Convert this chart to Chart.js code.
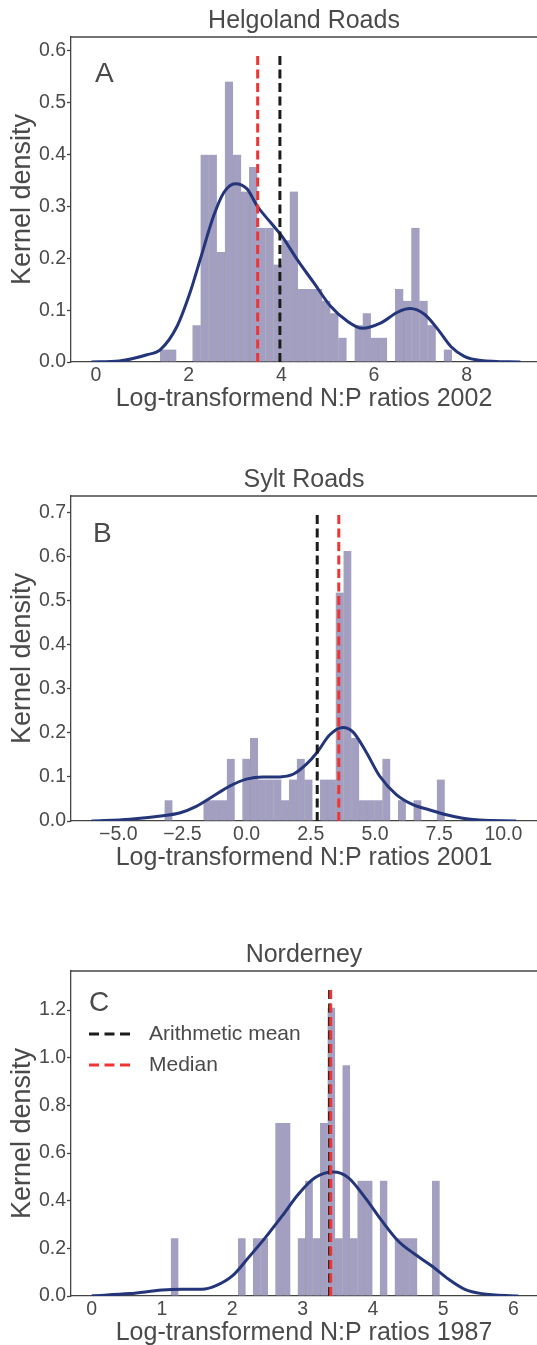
<!DOCTYPE html>
<html>
<head>
<meta charset="utf-8">
<script src="https://cdn.jsdelivr.net/npm/chart.js@4.4.1/dist/chart.umd.min.js"></script>
<style>
  html, body { margin: 0; padding: 0; background: #fff; overflow: hidden; }
  .panel { position: absolute; left: 0; width: 537px; height: 420px; }
</style>
</head>
<body>
<div class="panel" style="top:0px"><canvas id="chartA" width="537" height="420"></canvas></div>
<div class="panel" style="top:459px"><canvas id="chartB" width="537" height="420"></canvas></div>
<div class="panel" style="top:934px"><canvas id="chartC" width="537" height="420"></canvas></div>
<script>
// ---- Helgoland Roads (A) ----
const histA = [0.024, 0.024, 0, 0, 0.071, 0.400, 0.400, 0.212, 0.541, 0.400, 0.329, 0.376,
    0.259, 0.259, 0.188, 0.235, 0.329, 0.141, 0.141, 0.141, 0.118, 0.094, 0.047, 0,
    0.071, 0.094, 0.047, 0.047, 0, 0.141, 0.118, 0.259, 0.118, 0.071, 0, 0.024];
const binStartA = 1.385;
const binWidthA = 0.175;
const kdeXA = [-0.1, 0.5, 1.1, 1.39, 1.75, 2.03, 2.25, 2.54, 2.76, 3.01, 3.26, 3.48, 3.77, 4.02,
    4.34, 4.70, 5.06, 5.42, 5.75, 6.14, 6.51, 6.78, 7.09, 7.38, 7.66, 7.95, 8.31, 9.16];
const kdeYA = [0, 0.002, 0.014, 0.024, 0.069, 0.134, 0.198, 0.282, 0.327, 0.344, 0.334, 0.301, 0.269, 0.242,
    0.198, 0.153, 0.108, 0.079, 0.065, 0.075, 0.096, 0.103, 0.092, 0.063, 0.030, 0.011, 0.003, 0];
const meanA = 3.97;
const medianA = 3.49;

// ---- Sylt Roads (B) ----
const histB = [0.047, 0, 0, 0, 0, 0.047, 0.047, 0.047, 0.141, 0, 0.141, 0.188,
    0.094, 0.094, 0.094, 0.047, 0.094, 0.141, 0.094, 0, 0.094, 0.094, 0.518, 0.612,
    0.188, 0.047, 0.047, 0.047, 0.141, 0, 0.047, 0, 0.047, 0, 0, 0.094];
const binStartB = -3.19;
const binWidthB = 0.303;
const kdeXB = [-6.04, -4.55, -3.26, -2.61, -1.96, -1.31, -0.66, -0.01, 0.64, 1.29, 1.81, 2.33, 2.75,
    3.23, 3.75, 4.14, 4.66, 5.18, 5.83, 6.48, 7.13, 7.78, 8.42, 9.07, 10.5];
const kdeYB = [0, 0.004, 0.012, 0.018, 0.033, 0.056, 0.079, 0.095, 0.100, 0.100, 0.106, 0.129, 0.156,
    0.195, 0.212, 0.202, 0.156, 0.102, 0.060, 0.037, 0.025, 0.014, 0.006, 0.002, 0];
const meanB = 2.75;
const medianB = 3.59;

// ---- Norderney (C) ----
const histC = [0.242, 0, 0, 0, 0, 0, 0, 0, 0, 0.242, 0, 0.242,
    0.242, 0, 0.726, 0.726, 0, 0.242, 0.484, 0.242, 0.726, 1.21, 0.242, 0.968,
    0.242, 0.484, 0.484, 0, 0.484, 0, 0.242, 0.242, 0.242, 0, 0, 0.484];
const binStartC = 1.128;
const binWidthC = 0.1062;
const kdeXC = [0, 0.545, 1.0, 1.29, 1.57, 1.76, 2.0, 2.23, 2.47, 2.71, 2.94, 3.18, 3.44,
    3.65, 3.89, 4.13, 4.36, 4.60, 4.84, 5.08, 5.31, 5.55, 6.07];
const kdeYC = [0.001, 0.010, 0.025, 0.028, 0.028, 0.042, 0.084, 0.161, 0.245, 0.336, 0.427, 0.497, 0.520,
    0.497, 0.413, 0.315, 0.231, 0.175, 0.126, 0.070, 0.028, 0.010, 0];
const meanC = 3.385;
const medianC = 3.40;

const FONT = '"Liberation Sans", Arial, Helvetica, sans-serif';
const textColor = '#4a4a4a';
const axisColor = '#444444';

// top spine of each axes box
const frameTop = {
    id: 'frameTop',
    afterDraw(chart) {
        const { ctx, chartArea } = chart;
        ctx.save();
        ctx.strokeStyle = axisColor;
        ctx.lineWidth = 1.3;
        ctx.beginPath();
        ctx.moveTo(chartArea.left, chartArea.top);
        ctx.lineTo(chartArea.right, chartArea.top);
        ctx.stroke();
        ctx.restore();
    }
};

// "A", "B", "C" panel labels
const panelLetter = {
    id: 'panelLetter',
    afterDraw(chart, args, opts) {
        const { ctx, chartArea } = chart;
        ctx.save();
        ctx.fillStyle = textColor;
        ctx.font = '28px ' + FONT;
        ctx.textBaseline = 'alphabetic';
        ctx.fillText(opts.text, chartArea.left + opts.dx, chartArea.top + opts.dy);
        ctx.restore();
    }
};

// legend with dashed samples, built from the mean/median datasets
const lineLegend = {
    id: 'lineLegend',
    afterDraw(chart, args, opts) {
        if (!opts.show) return;
        const { ctx, chartArea } = chart;
        const items = chart.data.datasets.filter(d => d.inLegend);
        ctx.save();
        items.forEach((d, i) => {
            const y = chartArea.top + 63 + i * 31;
            ctx.strokeStyle = d.borderColor;
            ctx.lineWidth = 3;
            ctx.setLineDash([10, 5.5]);
            ctx.beginPath();
            ctx.moveTo(chartArea.left + 18, y);
            ctx.lineTo(chartArea.left + 59, y);
            ctx.stroke();
            ctx.setLineDash([]);
            ctx.fillStyle = textColor;
            ctx.font = '21px ' + FONT;
            ctx.textBaseline = 'middle';
            ctx.fillText(d.label, chartArea.left + 78, y);
        });
        ctx.restore();
    }
};

function numFmt(v) {
    return (v < 0 ? '\u2212' : '') + Math.abs(v).toFixed(1);
}

function buildChart(id, p) {
    const bars = p.hist.map((h, i) => ({ x: p.binStart + (i + 0.5) * p.binWidth, y: h }));
    const kde = p.kdeX.map((x, i) => ({ x: x, y: p.kdeY[i] }));
    return new Chart(document.getElementById(id), {
        type: 'bar',
        data: {
            datasets: [{
                type: 'bar',
                label: 'hist',
                data: bars,
                backgroundColor: '#a29fc2',
                borderColor: 'rgba(105,105,120,0.6)',
                borderWidth: { left: 1, right: 0, top: 0, bottom: 0 },
                barPercentage: 1,
                categoryPercentage: 1,
                order: 4
            }, {
                type: 'line',
                label: 'KDE',
                data: kde,
                borderColor: '#24357a',
                borderWidth: 3,
                pointRadius: 0,
                cubicInterpolationMode: 'monotone',
                fill: false,
                order: 3
            }, {
                type: 'line',
                label: 'Arithmetic mean',
                inLegend: true,
                data: [{ x: p.mean, y: 0 }, { x: p.mean, y: p.vTop }],
                borderColor: '#1b1b1b',
                borderWidth: 3,
                borderDash: [9, 4.5],
                pointRadius: 0,
                order: 2
            }, {
                type: 'line',
                label: 'Median',
                inLegend: true,
                data: [{ x: p.median, y: 0 }, { x: p.median, y: p.vTop }],
                borderColor: '#f03434',
                borderWidth: 3,
                borderDash: [9, 4.5],
                pointRadius: 0,
                order: 1
            }]
        },
        options: {
            responsive: false,
            animation: false,
            layout: { padding: 0 },
            plugins: {
                legend: { display: false },
                tooltip: { enabled: false },
                title: {
                    display: true,
                    text: p.title,
                    fullSize: false,
                    color: textColor,
                    font: { family: FONT, size: 25, weight: 'normal' },
                    padding: { top: 6, bottom: 1 }
                },
                panelLetter: { text: p.letter, dx: p.letterDx, dy: p.letterDy },
                lineLegend: { show: p.legend }
            },
            scales: {
                x: {
                    type: 'linear',
                    min: p.xMin,
                    max: p.xMax,
                    offset: false,
                    grid: { display: false, drawTicks: false },
                    border: { display: true, color: axisColor, width: 1.3 },
                    ticks: {
                        stepSize: p.xStep,
                        includeBounds: false,
                        maxRotation: 0,
                        color: textColor,
                        font: { family: FONT, size: 19.5 },
                        padding: 1.5,
                        callback: p.xFmt
                    },
                    title: {
                        display: true,
                        text: p.xTitle,
                        color: textColor,
                        font: { family: FONT, size: 25 },
                        padding: { top: 0, bottom: 6 }
                    },
                    afterFit: s => { s.height = 58; }
                },
                y: {
                    min: 0,
                    max: p.yMax,
                    grid: {
                        display: true,
                        drawOnChartArea: false,
                        drawTicks: true,
                        tickLength: 4,
                        color: axisColor,
                        tickColor: axisColor,
                        tickWidth: 1.3
                    },
                    border: { display: true, color: axisColor, width: 1.3 },
                    ticks: {
                        stepSize: p.yStep,
                        includeBounds: false,
                        color: textColor,
                        font: { family: FONT, size: 19.5 },
                        padding: 1,
                        callback: v => v.toFixed(1)
                    },
                    title: {
                        display: true,
                        text: 'Kernel density',
                        color: textColor,
                        font: { family: FONT, size: 27 },
                        padding: { top: 6.8, bottom: 0 }
                    },
                    afterFit: s => { s.width = 71; }
                }
            }
        },
        plugins: [frameTop, panelLetter, lineLegend]
    });
}

buildChart('chartA', {
    title: 'Helgoland Roads', xTitle: 'Log-transformend N:P ratios 2002', letter: 'A',
    letterDx: 24, letterDy: 45, legend: false,
    hist: histA, binStart: binStartA, binWidth: binWidthA,
    kdeX: kdeXA, kdeY: kdeYA, mean: meanA, median: medianA, vTop: 0.595,
    xMin: -0.54, xMax: 9.52, xStep: 2, xFmt: v => String(v),
    yMax: 0.627, yStep: 0.1
});

buildChart('chartB', {
    title: 'Sylt Roads', xTitle: 'Log-transformend N:P ratios 2001', letter: 'B',
    letterDx: 22, letterDy: 46, legend: false,
    hist: histB, binStart: binStartB, binWidth: binWidthB,
    kdeX: kdeXB, kdeY: kdeYB, mean: meanB, median: medianB, vTop: 0.695,
    xMin: -6.84, xMax: 11.31, xStep: 2.5, xFmt: numFmt,
    yMax: 0.737, yStep: 0.1
});

buildChart('chartC', {
    title: 'Norderney', xTitle: 'Log-transformend N:P ratios 1987', letter: 'C',
    letterDx: 18, letterDy: 40, legend: true,
    hist: histC, binStart: binStartC, binWidth: binWidthC,
    kdeX: kdeXC, kdeY: kdeYC, mean: meanC, median: medianC, vTop: 1.286,
    xMin: -0.295, xMax: 6.336, xStep: 1, xFmt: v => String(v),
    yMax: 1.364, yStep: 0.2
});
</script>
</body>
</html>
